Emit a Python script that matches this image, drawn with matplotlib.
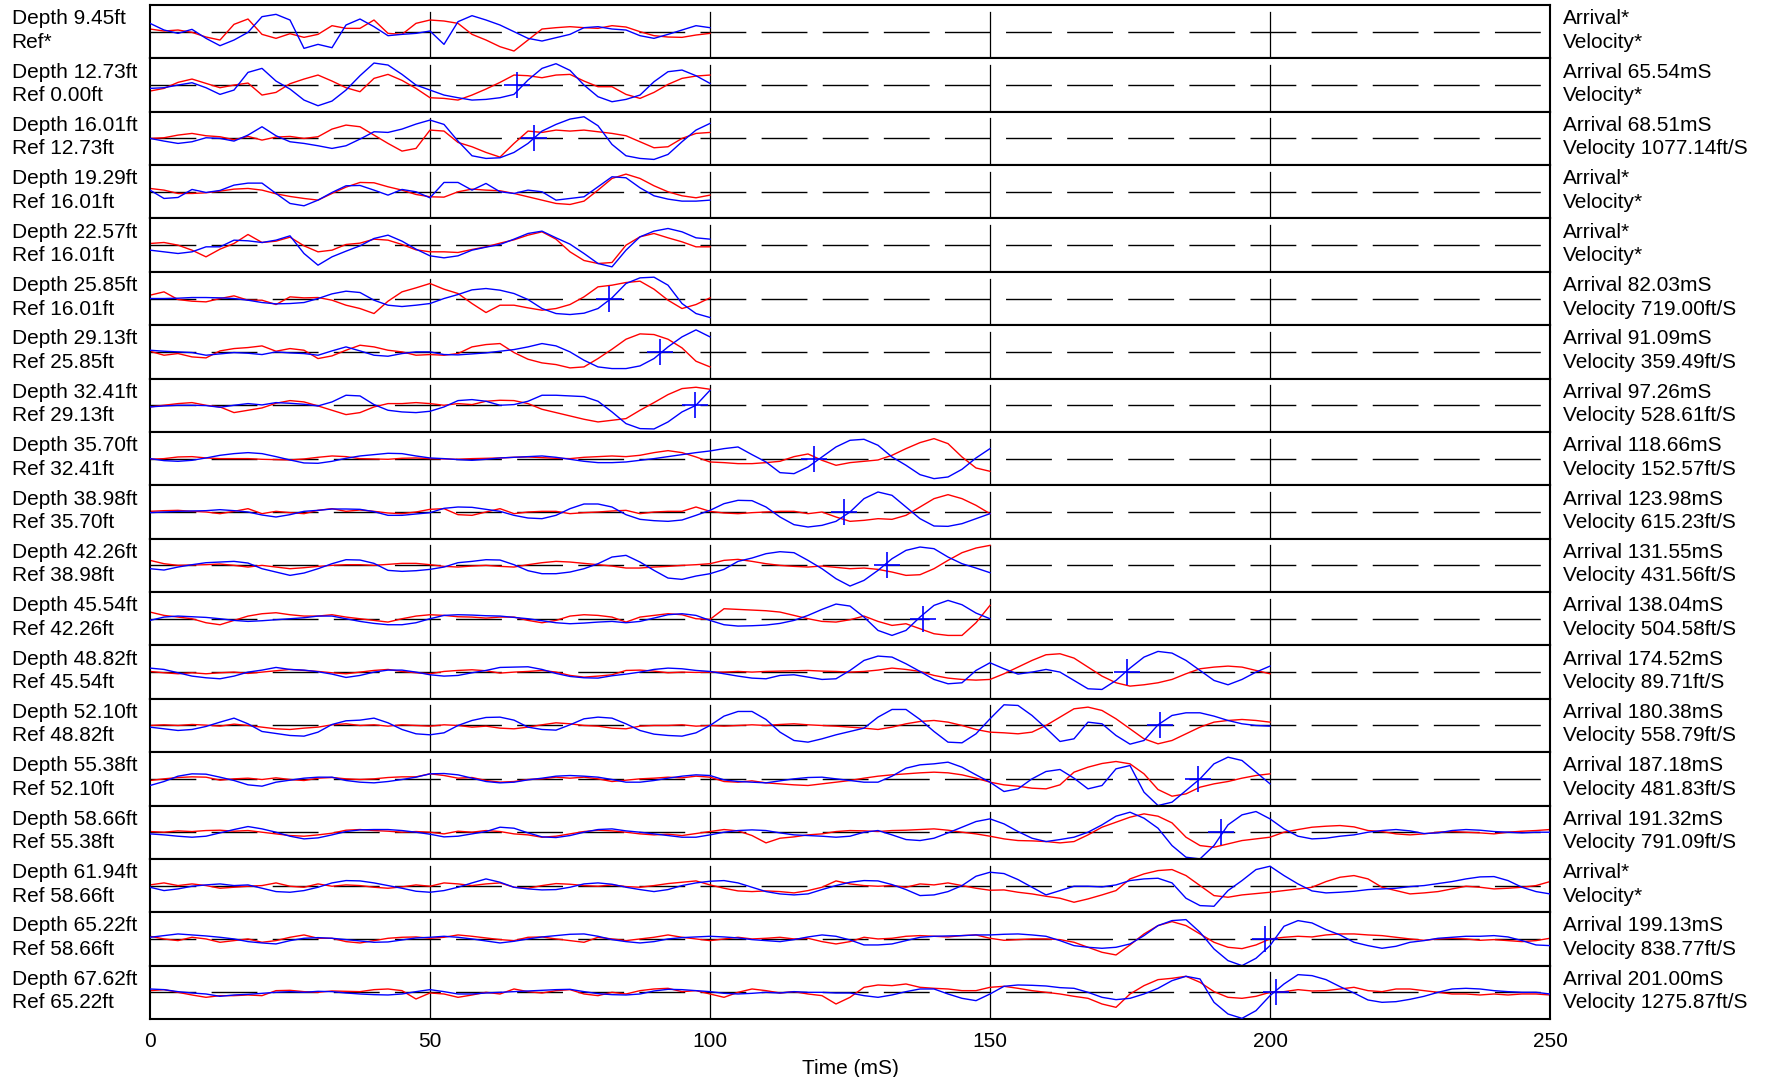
"""Stacked trace display: shot traces (blue) vs reference traces (red) by depth."""

import numpy as np
import matplotlib
matplotlib.use("Agg")  # non-interactive backend
import matplotlib.pyplot as plt

plt.rcParams["font.family"] = ["Liberation Sans", "DejaVu Sans"]

# --- labels per row -------------------------------------------------------
depths = ["9.45", "12.73", "16.01", "19.29", "22.57", "25.85", "29.13", "32.41",
          "35.70", "38.98", "42.26", "45.54", "48.82", "52.10", "55.38", "58.66",
          "61.94", "65.22", "67.62"]
refs = [None, "0.00", "12.73", "16.01", "16.01", "16.01", "25.85", "29.13",
        "32.41", "35.70", "38.98", "42.26", "45.54", "48.82", "52.10", "55.38",
        "58.66", "58.66", "65.22"]
arrivals = [None, 65.54, 68.51, None, None, 82.03, 91.09, 97.26, 118.66, 123.98,
            131.55, 138.04, 174.52, 180.38, 187.18, 191.32, None, 199.13, 201.00]
velocities = [None, None, 1077.14, None, None, 719.00, 359.49, 528.61, 152.57,
              615.23, 431.56, 504.58, 89.71, 558.79, 481.83, 791.09, None,
              838.77, 1275.87]
trace_end = [100] * 8 + [150] * 4 + [200] * 3 + [250] * 4  # mS

# --- trace amplitudes, sampled every 2.5 mS (row half-height = 80) -------
blue_01 = [25, 5, -5, 7, -20, -42, -25, -2, 45, 52, 35, -50, -38, -48, 20, 38, 15, -12, -8, -5,
           2, -38, 30, 48, 35, 20, 0, -20, -28, -18, -8, 12, 15, 8, 5, -12, -20, -8, 5, 18, 12]
red_01 = [8, 2, 5, -2, -16, -25, 22, 38, -8, -20, -6, -17, -8, 18, 10, 10, 35, -5, -8, 25,
          35, 32, 25, -8, -25, -45, -58, -25, 8, 12, 15, 12, 10, 18, 14, 0, -12, -16, -17, -10, -5]
blue_02 = [-10, -8, 0, 7, -8, -28, -15, 38, 50, 12, -12, -45, -62, -48, -15, 28, 66, 60, 32, 0,
           -15, -30, -38, -45, -43, -38, -28, 15, 50, 64, 44, 0, -35, -50, -43, -30, 10, 40, 45, 28, 5]
red_02 = [-18, -10, 8, 18, 5, -8, 0, 6, -30, -22, 4, 18, 30, 12, -8, -20, 20, 32, 14, -10,
          -38, -40, -45, -30, -12, 8, 30, 28, 22, 30, 32, 12, -5, -5, -28, -40, -22, 2, 20, 27, 30]
blue_03 = [0, -8, -15, -10, 2, 0, -8, 10, 35, 8, -10, -15, -22, -30, -22, -2, 20, 18, 28, 43,
           55, 42, -8, -52, -60, -58, -42, -15, 22, 42, 58, 65, 38, -18, -52, -60, -63, -48, -10, 25, 45]
red_03 = [0, 2, 10, 15, 8, 5, -4, 6, -5, 4, 6, 0, 5, 28, 40, 35, 10, -15, -38, -30,
          25, 22, -12, -25, -42, -56, -15, 22, 18, 25, 22, 25, 20, 15, 8, -10, -28, -25, 0, 15, 18]
blue_04 = [5, -20, -17, 7, -2, 4, 20, 26, 26, -5, -35, -42, -25, -2, 18, 19, 5, -10, 7, 0,
           -18, 28, 28, 5, 25, 0, -5, 5, 0, -25, -20, -15, 15, 45, 42, 12, -12, -22, -28, -28, -25]
red_04 = [10, 5, -5, -5, -3, 2, 8, 10, 5, -6, -14, -20, -25, -5, 14, 28, 27, 15, 5, -8,
          -15, -16, 0, 8, 5, 3, -5, -15, -25, -35, -38, -28, 5, 40, 53, 40, 18, 0, -12, -18, -10]
blue_05 = [-15, -20, -25, -20, -5, -5, 15, 13, 8, 15, 28, -25, -60, -35, -18, -2, 20, 30, 12, -12,
           -32, -38, -32, -15, -6, 2, 18, 35, 42, 22, 3, -25, -55, -65, -15, 25, 42, 50, 40, 22, 18]
red_05 = [5, 8, 0, -15, -35, -12, 5, 32, 8, 12, 24, -2, -20, -15, 2, 6, 18, 15, 2, -14,
          -20, -20, -22, -13, -5, 6, 16, 30, 40, 18, -20, -46, -55, -52, 0, 25, 35, 22, 10, -5, -5]
blue_06 = [0, 0, 1, 3, 3, 2, 0, -5, -12, -16, -15, -12, 0, 14, 22, 18, -5, -20, -24, -20,
           -15, 0, 12, 26, 30, 25, 15, -3, -30, -45, -48, -44, -30, 2, 45, 62, 64, 40, -15, -45, -57]
red_06 = [10, 20, -3, -8, -10, 0, 8, -5, -5, -18, 5, 2, 3, -5, -20, -30, -45, -8, 20, 32,
          45, 28, 15, -15, -42, -20, -20, -28, -35, -30, -18, 5, 35, 40, 48, 52, 28, -5, -30, -18, 2]
blue_07 = [5, 2, 0, -2, -10, -6, -2, -4, -8, 0, -3, -5, -10, 3, 15, 3, -10, -13, -5, 0,
           0, -8, -9, -6, -3, 2, 7, 15, 25, 18, 0, -25, -45, -50, -50, -42, -20, 15, 45, 66, 45]
red_07 = [2, -10, -5, -15, -18, 3, 10, 13, 18, 2, 10, 5, -20, -12, 5, 20, 15, 5, 0, -10,
          -8, -10, -5, 15, 22, 25, -2, -22, -33, -38, -48, -45, -20, 8, 38, 54, 52, 38, 12, -28, -45]
blue_08 = [-5, -2, 0, 0, -1, -6, 0, 5, 1, 8, 6, 3, -2, 10, 30, 28, 2, -15, -20, -22,
           -18, -5, 14, 17, 12, 0, 2, 12, 30, 30, 28, 26, 12, -20, -55, -70, -71, -50, -20, 0, 45]
red_08 = [-5, 0, 5, 8, 0, -5, -22, -15, -8, 6, 14, 10, -2, -15, -28, -22, -5, 5, 5, 8,
          5, 0, 5, 2, 12, 15, 14, 5, -12, -22, -32, -42, -50, -45, -40, -15, 8, 32, 50, 54, 48]
blue_09 = [0, -6, -8, -5, 2, 10, 15, 18, 15, 6, -4, -13, -14, -8, 1, 8, 12, 16, 15, 8,
           2, 0, -3, -5, -2, 2, 4, 6, 8, 4, -2, -8, -12, -12, -10, -5, 0, 6, 12, 18,
           23, 30, 35, 12, -10, -42, -45, -25, 5, 35, 55, 58, 40, 5, -20, -48, -60, -55, -32, 2, 30]
red_09 = [-2, 0, 5, 6, 2, 0, 0, 0, -2, -3, -4, -1, 4, 8, 6, 0, -1, -2, 1, 2,
          0, -1, -2, 0, 1, 2, 4, 5, 3, 1, 0, 4, 6, 8, 6, 10, 18, 24, 18, 5,
          -10, -12, -15, -15, -12, -8, 6, 14, -5, -20, -12, -8, -4, 10, 30, 48, 60, 45, 5, -28, -38]
blue_10 = [-2, 0, 2, 3, 4, 7, 4, 0, -9, -15, -8, 2, 5, 9, 9, 8, 1, -10, -10, -6,
           -2, 11, 15, 14, 8, 2, -10, -18, -20, -10, 10, 24, 24, 15, -8, -22, -26, -28, -24, -10,
           5, 25, 35, 34, 15, -15, -38, -45, -40, -28, 0, 40, 60, 50, 15, -20, -42, -43, -35, -20, -5]
red_10 = [2, 4, 5, 2, 0, -5, 2, 10, -5, 2, -2, -5, 5, 10, 2, 6, 2, -3, -5, 0,
          8, 10, -8, -10, 0, 10, -5, 0, 2, 2, -5, -2, 0, 3, 5, -5, 0, 2, 2, 15,
          2, -3, -5, -2, 0, 2, 2, -5, 0, -15, -28, -25, -20, -22, -10, 15, 40, 52, 40, 20, -5]
blue_11 = [-10, -14, -5, 2, 8, 10, 12, 7, -10, -20, -30, -23, -10, 5, 17, 16, 6, -15, -18, -16,
           -12, -5, 8, 12, 17, 16, 2, -16, -25, -25, -20, -10, 5, 25, 30, 10, -15, -38, -42, -32,
           -25, -12, 12, 22, 35, 41, 38, 15, -10, -40, -62, -45, -15, 20, 45, 55, 50, 25, 5, -8, -22]
red_11 = [15, 5, 0, 1, 2, 4, 0, -5, 0, -5, -10, -7, -3, 0, 2, 2, 0, 3, 6, 6,
          2, -3, -5, -2, 0, -3, -5, 2, 8, 12, 10, 6, 2, -2, -8, -8, -5, -3, 0, 2,
          5, 15, 18, 12, 5, 0, -3, -5, -2, -6, -10, -8, -12, -20, -30, -28, -10, 15, 38, 52, 60]
blue_12 = [-5, 5, 8, 6, 4, 0, -5, -8, -6, -3, 0, 3, 8, 8, 0, -8, -14, -18, -18, -12,
           0, 10, 12, 11, 9, 8, 4, 0, -6, -12, -15, -13, -10, -8, -12, -8, 2, 12, 15, 10,
           -5, -18, -22, -21, -19, -14, -5, 10, 28, 44, 38, 5, -35, -50, -35, 5, 40, 55, 42, 17, 0]
red_12 = [20, 10, 5, 0, -12, -18, -5, 8, 15, 18, 12, 8, 8, 12, 5, 0, -5, -10, 0, 8,
          12, 10, 6, 5, 2, 5, 5, -5, -12, -5, 8, 12, 10, 5, -10, 5, 10, 15, 12, 0,
          -2, 30, 28, 26, 24, 20, 10, 0, -8, -10, -3, 8, -8, -20, -15, -30, -45, -50, -50, -12, 40]
blue_13 = [12, 8, -2, -12, -17, -20, -12, 0, 6, 14, 8, 6, 1, -6, -16, -10, 0, 6, 6, 0,
           -8, -12, -10, -2, 5, 14, 15, 16, 8, -4, -13, -17, -18, -11, -6, 0, 8, 12, 10, 5,
           2, -5, -12, -18, -20, -10, -8, -15, -22, -20, 5, 35, 48, 45, 25, 2, -22, -35, -32, 5,
           28, 10, -6, 0, 8, 0, -25, -50, -52, -25, 12, 45, 62, 57, 35, 5, -25, -38, -22, 0, 18]
red_13 = [2, -2, -5, -2, -5, -2, 0, -4, 0, 4, 8, 5, 2, -2, -5, 0, 5, 8, 2, -2,
          -5, 2, 5, 7, 4, -3, 0, 2, 5, 0, -10, -15, -12, -8, 5, 6, 3, -2, 0, -1,
          0, 0, 2, 0, 2, 3, 4, 5, 3, 2, 0, 2, 6, 12, 8, 2, -10, -18, -22, -24,
          -22, -5, 15, 35, 52, 55, 42, 15, -12, -32, -42, -38, -32, -22, -5, 10, 15, 18, 15, 5, -5]
blue_14 = [-5, -10, -15, -12, -3, 10, 22, 5, -18, -24, -30, -32, -20, 3, 14, 16, 22, 8, -12, -25,
           -28, -22, 0, 15, 24, 25, 16, -5, -12, -14, 2, 20, 25, 22, 5, -15, -26, -30, -32, -22,
           0, 28, 42, 42, 18, -20, -45, -50, -40, -28, -18, -8, 25, 48, 48, 18, -18, -50, -52, -25,
           20, 62, 60, 30, -8, -48, -40, 10, 5, -30, -56, -45, 2, 30, 38, 38, 28, 15, 5, 0, -2]
red_14 = [0, 2, 0, 3, 1, -2, 4, 0, -5, -10, -12, -8, -5, 2, 5, 0, 2, -2, 2, 0,
          -2, 2, 0, -5, -2, -8, -10, -5, 2, 8, 5, 0, -2, -8, -10, -2, 0, 0, 2, -2,
          0, -2, 0, 2, 0, 3, 5, 2, 0, -2, -5, -8, -12, -5, 5, 12, 15, 10, 0, -12,
          -20, -22, -25, -20, 0, 25, 50, 55, 45, 20, -10, -40, -55, -45, -25, -5, 10, 15, 18, 15, 10]
blue_15 = [-20, -8, 8, 15, 14, 5, -5, -18, -22, -10, -4, 2, 5, 5, -5, -10, -12, -8, -2, 5,
           15, 16, 12, 2, -8, -12, -10, -3, 2, 8, 10, 8, 5, -2, -10, -10, -5, 2, 8, 12,
           10, -3, -8, -10, -12, -6, 0, 4, 5, 0, -5, -10, -10, 8, 32, 42, 45, 50, 35, 12,
           -10, -38, -30, 0, 22, 28, 2, -30, -20, 30, 40, -40, -80, -70, -35, 0, 45, 65, 55, 20, -15]
red_15 = [-5, 0, 4, 6, 5, -4, 0, 2, -2, 3, -2, -5, 2, 4, 0, -2, 0, 4, 6, 6,
          15, 10, 2, 4, -5, -10, -8, -2, 0, 5, 2, 5, 0, -8, -4, 0, 2, 5, 3, 8,
          5, -8, -10, -6, -12, -15, -18, -20, -15, -10, -5, 2, 8, 12, 15, 18, 20, 18, 12, 2,
          -10, -18, -22, -28, -30, -18, 20, 35, 46, 52, 45, 15, -32, -52, -45, -25, -15, -8, 2, 10, 15]
blue_16 = [-5, -8, -12, -15, -12, -2, 8, 17, 10, 0, -12, -20, -17, -8, 2, 7, 8, 8, 5, 0,
           -6, -14, -12, -5, 2, 15, 12, -2, -14, -16, -10, 0, 8, 10, 4, 0, -5, -10, -15, -15,
           -8, 0, 5, 7, 5, -2, -8, -10, -12, -15, -12,
           0, 5, -8, -22, -25, -18, -2, 15, 32, 40, 25, 2, -18, -28, -22, -15, 0, 22, 48, 60,
           42, 12, -40, -75, -80, -40, 22, 52, 62, 40, 10, -12, -20, -18, -12, -8, 0, 5, 8, 4,
           -4, -2, 5, 8, 6, 2, 0, -2, 0, 0]
red_16 = [2, 0, 4, 2, 5, 6, 3, 5, 0, -5, -10, -12, -8, -3, 6, 8, 5, 3, 0, 2,
          0, -5, 3, 0, 5, 2, -5, -8, -15, -12, -5, 2, 6, 4, 0, -5, -8, -6, -10, -4,
          2, 8, 4, -10, -32, -18, -14, -8, -5, 2, 5,
          4, 2, 5, 6, 8, 10, 6, 0, -5, -12, -20, -25, -26, -28, -32, -28, -8, 15, 30, 45,
          55, 48, 28, -15, -40, -45, -35, -25, -20, -15, 0, 8, 15, 18, 20, 16, 5, 2, -5, -8,
          -5, 0, 2, 0, -2, -5, 0, 3, 5, 8]
blue_17 = [-5, -15, -10, -2, 2, 5, 0, 2, -8, -18, -20, -15, -5, 8, 15, 14, 8, 0, -8, -17,
           -20, -15, -5, 8, 20, 10, -5, -10, -13, -12, -5, 5, 8, 4, -5, -12, -18, -12, 0, 8,
           13, 15, 8, -5, -18, -25, -28, -25, -12, 0, 10,
           15, 14, 3, -12, -30, -28, -18, 0, 28, 40, 36, 18, -5, -28, -15, -2, -2, -4, 2, 15,
           20, 22, 8, -38, -60, -62, -15, 15, 48, 58, 30, 5, -16, -22, -20, -17, -12, -10, -8, -3,
           0, 6, 12, 20, 26, 27, 15, -5, -18, -25]
red_17 = [2, 8, 0, 5, 0, -8, -5, -2, 0, 8, -2, -5, 5, -2, 2, 0, -5, -8, -4, 2,
          -2, 8, 5, 0, 5, 8, -5, -8, 0, 6, 4, 0, -2, 2, -3, -5, 0, 6, 10, 14,
          2, -8, -16, -18, -16, -18, -22, -15, -5, 14, 5,
          0, -2, 0, -5, 5, 2, 8, 0, -8, -14, -13, -20, -25, -32, -38, -50, -40, -28, -15, 20,
          35, 45, 48, 30, 0, -30, -35, -28, -24, -20, -15, -10, -5, 12, 25, 30, 20, -5, -15, -25,
          -22, -18, -10, -2, -5, -10, -8, -5, 0, 12]
blue_18 = [5, 10, 15, 12, 9, 5, 0, -8, -12, -15, -5, 2, 4, 2, -2, -6, -10, -9, -3, 3,
           5, 8, 5, 0, -6, -12, -7, 0, 6, 10, 14, 15, 8, -2, -8, -12, -8, 0, 4, 6,
           8, 6, 3, -2, -5, -8, -2, 6, 12, 8, -3,
           -18, -18, -15, -5, 5, 8, 9, 10, 12, 12, 14, 15, 12, 8, -5, -20, -25, -28, -25, -15,
           10, 40, 55, 58, 20, -30, -65, -80, -58, -20, 38, 55, 48, 28, 12, -10, -20, -28, -22, -10,
           -5, 2, 5, 8, 8, 10, 6, -5, -18, -20]
red_18 = [8, 0, -5, 5, 0, -10, -5, 0, -10, -5, 5, 12, 2, 2, -8, -12, -5, 2, 5, 6,
          2, 5, 12, 8, 3, -2, -5, 5, 6, 0, -5, -10, 5, 0, -5, 0, 5, 12, 5, 0,
          -5, 0, 5, 0, 2, 5, 0, 2, -8, -15, -8,
          5, 0, 2, 8, 10, 8, 6, 10, 12, 2, -4, -2, 0, 0, -2, -10, -25, -40, -48, -18,
          15, 40, 52, 40, 15, -10, -25, -29, -18, 0, 5, 8, 6, 12, 15, 15, 12, 10, 5, 0,
          -4, 0, 2, 0, -4, -2, -5, -8, -5, 2]
blue_19 = [10, 8, 2, -2, -5, -12, -8, -6, -3, 0, 2, 0, 3, 2, -2, -5, -7, -8, -5, 2,
           8, 2, -5, -5, -2, 0, 2, 4, 6, 8, 9, 2, -4, -7, -8, -5, 4, 9, 8, 5,
           2, -3, -5, -3, 0, -2, 2, 0, 0, -2, -2,
           -10, -15, -8, 2, 10, 10, -5, -18, -25, -5, 18, 22, 21, 19, 14, 12, 0, -15, -22, -18,
           -5, 12, 35, 48, 40, -30, -65, -78, -55, -10, 25, 53, 50, 38, 17, -2, -23, -30, -28, -21,
           -12, 0, 10, 12, 10, 5, 2, 0, 0, -5]
red_19 = [5, 8, 0, -8, -15, -10, -10, -8, -10, 5, 6, 2, 0, 4, 3, 2, 8, 10, 5, -20,
          -2, -5, -15, -8, 0, -5, 10, 2, -2, 5, 8, -5, -10, 0, -5, 5, 10, 12, 2, 5,
          -5, -15, 0, 10, 5, -2, 2, -5, -10, -35, -15,
          15, 22, 20, 25, 15, 12, 10, 5, 5, 15, 18, 12, 5, 0, -5, -12, -18, -35, -45, -5,
          20, 38, 42, 48, 30, 2, -15, -18, -12, 0, 2, 8, 4, 5, 10, 15, 5, 2, 10, 10,
          5, 0, -5, -5, -8, -5, -8, -5, -5, -8]

blue_traces = [blue_01, blue_02, blue_03, blue_04, blue_05, blue_06, blue_07, blue_08,
               blue_09, blue_10, blue_11, blue_12, blue_13, blue_14, blue_15, blue_16,
               blue_17, blue_18, blue_19]
red_traces = [red_01, red_02, red_03, red_04, red_05, red_06, red_07, red_08,
              red_09, red_10, red_11, red_12, red_13, red_14, red_15, red_16,
              red_17, red_18, red_19]

n_rows = len(depths)
FS = 15

fig, axes = plt.subplots(n_rows, 1, sharex=True, figsize=(17.71, 10.77), dpi=100)
fig.subplots_adjust(left=150 / 1771, right=1550 / 1771,
                    top=1 - 5 / 1077, bottom=1 - 1019 / 1077, hspace=0)

for i, ax in enumerate(axes):
    end = trace_end[i]
    # zero line and time markers
    ax.axhline(0, color="black", lw=1.0, dashes=(33, 11), zorder=1)
    for xv in (50, 100, 150, 200):
        ax.axvline(xv, ymin=0, ymax=0.875, color="black", lw=0.9, zorder=1)

    t_red = np.linspace(0, end, len(red_traces[i]))
    t_blue = np.linspace(0, end, len(blue_traces[i]))
    ax.plot(t_red, red_traces[i], color="red", lw=1.0, zorder=2,
            solid_joinstyle="round")
    ax.plot(t_blue, blue_traces[i], color="blue", lw=1.0, zorder=3,
            solid_joinstyle="round")

    if arrivals[i] is not None:
        ax.plot(arrivals[i], 0, "+", color="blue", ms=19, mew=1.2, zorder=4)

    ax.set_xlim(0, 250)
    ax.set_ylim(-80, 80)
    ax.set_yticks([])
    for sp in ax.spines.values():
        sp.set_linewidth(1.5)
    ax.tick_params(axis="x", length=0, pad=9, labelsize=FS)

    ref_txt = "Ref*" if refs[i] is None else f"Ref {refs[i]}ft"
    arr_txt = "Arrival*" if arrivals[i] is None else f"Arrival {arrivals[i]:.2f}mS"
    vel_txt = "Velocity*" if velocities[i] is None else f"Velocity {velocities[i]:.2f}ft/S"
    ax.text(-0.0989, 0.64, f"Depth {depths[i]}ft", transform=ax.transAxes,
            fontsize=FS, va="baseline", ha="left", clip_on=False)
    ax.text(-0.0989, 0.20, ref_txt, transform=ax.transAxes,
            fontsize=FS, va="baseline", ha="left", clip_on=False)
    ax.text(1.0093, 0.64, arr_txt, transform=ax.transAxes,
            fontsize=FS, va="baseline", ha="left", clip_on=False)
    ax.text(1.0093, 0.20, vel_txt, transform=ax.transAxes,
            fontsize=FS, va="baseline", ha="left", clip_on=False)

axes[-1].set_xticks([0, 50, 100, 150, 200, 250])
axes[-1].set_xlabel("Time (mS)", fontsize=FS, labelpad=6)

plt.savefig("out.png", dpi=100)
plt.close()
